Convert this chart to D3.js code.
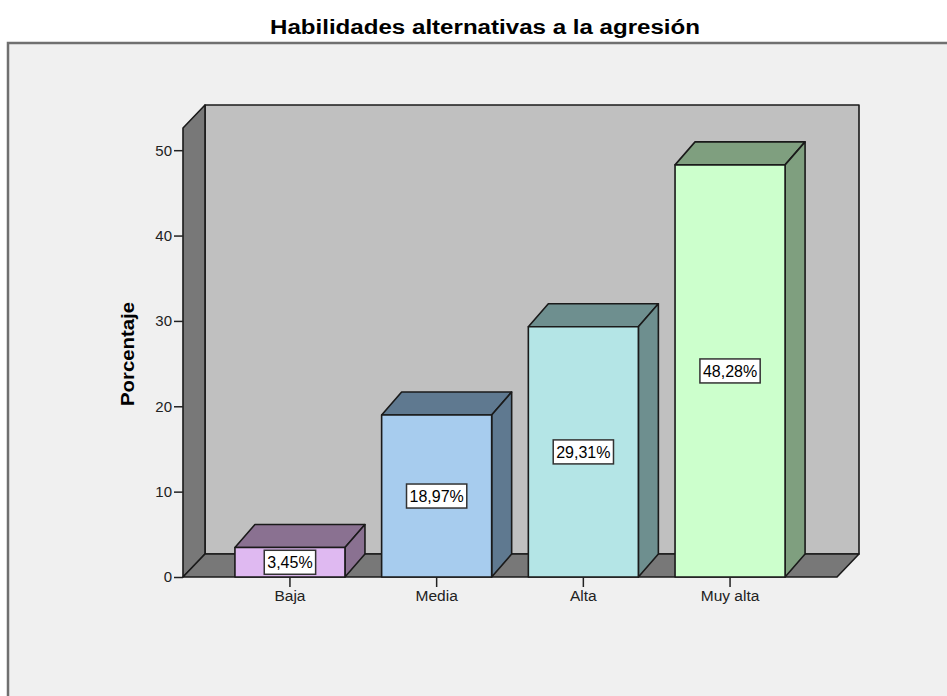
<!DOCTYPE html>
<html>
<head>
<meta charset="utf-8">
<style>
  body { margin: 0; background: #fff; }
  svg { display: block; font-family: "Liberation Sans", Arial, sans-serif; }
  .title { font-size: 20px; font-weight: bold; }
  .ylab { font-size: 19px; font-weight: bold; }
  .tick text { font-size: 15px; fill: #222; }
  .xax .tick text { font-size: 15.5px; }
  .vlabel { font-size: 16px; }
</style>
</head>
<body>
<div id="chart"></div>
<script src="https://d3js.org/d3.v7.min.js"></script>
<script>
// data
const categories = ["Baja", "Media", "Alta", "Muy alta"];
const values = [3.45, 18.97, 29.31, 48.28];
const valueLabels = ["3,45%", "18,97%", "29,31%", "48,28%"];
const frontColors = ["#dfb9f1", "#a7ccee", "#b4e5e6", "#ccffcc"];
const sideColors = ["#8a7191", "#5f7990", "#6e8f8f", "#7f9f7f"];
const yTicks = [0, 10, 20, 30, 40, 50];

const W = 947, H = 696;
const plotL = 183, plotR = 837, plotB = 577, plotT = 128;
const yMax = 52.6;
const dx = 22, dy = -23;     // wall depth
const bdx = 20, bdy = -23;   // bar depth

const svg = d3.select("#chart").append("svg")
  .attr("width", W).attr("height", H);

// panel
svg.append("rect")
  .attr("x", 8).attr("y", 43).attr("width", W).attr("height", H)
  .attr("fill", "#f0f0f0").attr("stroke", "#707070").attr("stroke-width", 2.5);

svg.append("text").attr("class", "title")
  .attr("x", 485).attr("y", 34).attr("text-anchor", "middle")
  .attr("textLength", 430).attr("lengthAdjust", "spacingAndGlyphs")
  .text("Habilidades alternativas a la agresión");

const x = d3.scaleBand().domain(categories)
  .range([plotL, plotR]).paddingInner(0.25).paddingOuter(0.354);
const y = d3.scaleLinear().domain([0, yMax]).range([plotB, plotT]);

const pts = a => a.map(p => p.join(",")).join(" ");
function poly(points, fill) {
  return svg.append("polygon").attr("points", pts(points)).attr("fill", fill)
    .attr("stroke", "#1a1a1a").attr("stroke-width", 1.6).attr("stroke-linejoin", "round");
}

// back wall, left wall, floor
poly([[plotL + dx, y(yMax) + dy], [plotR + dx, y(yMax) + dy], [plotR + dx, plotB + dy], [plotL + dx, plotB + dy]], "#c0c0c0");
poly([[plotL, plotB], [plotL, y(yMax)], [plotL + dx, y(yMax) + dy], [plotL + dx, plotB + dy]], "#787878");
poly([[plotL, plotB], [plotR, plotB], [plotR + dx, plotB + dy], [plotL + dx, plotB + dy]], "#787878");

// bars
categories.forEach((c, i) => {
  const x0 = x(c), x1 = x(c) + x.bandwidth(), yt = y(values[i]);
  poly([[x0, yt], [x0 + bdx, yt + bdy], [x1 + bdx, yt + bdy], [x1, yt]], sideColors[i]);
  poly([[x1, yt], [x1 + bdx, yt + bdy], [x1 + bdx, plotB + bdy], [x1, plotB]], sideColors[i]);
  poly([[x0, yt], [x1, yt], [x1, plotB], [x0, plotB]], frontColors[i]);
});

// value labels
categories.forEach((c, i) => {
  const cx = x(c) + x.bandwidth() / 2, cy = (y(values[i]) + plotB) / 2;
  const g = svg.append("g").attr("transform", `translate(${cx},${cy})`);
  const t = g.append("text").attr("class", "vlabel")
    .attr("text-anchor", "middle").attr("dy", "0.36em").text(valueLabels[i]);
  const bb = t.node().getBBox();
  g.insert("rect", "text")
    .attr("x", bb.x - 3).attr("y", -12).attr("width", bb.width + 6).attr("height", 24)
    .attr("fill", "#fff").attr("stroke", "#333").attr("stroke-width", 1.5);
});

// axes
const yAxis = svg.append("g").attr("transform", `translate(${plotL},0)`)
  .call(d3.axisLeft(y).tickValues(yTicks).tickSize(9).tickPadding(2));
yAxis.select(".domain").remove();
yAxis.selectAll("line").attr("stroke", "#222").attr("stroke-width", 1.5);

const xAxis = svg.append("g").attr("class", "xax").attr("transform", `translate(0,${plotB})`)
  .call(d3.axisBottom(x).tickSize(10).tickPadding(3));
xAxis.select(".domain").remove();
xAxis.selectAll("line").attr("stroke", "#222").attr("stroke-width", 1.5);

svg.append("text").attr("class", "ylab")
  .attr("transform", "translate(134,354) rotate(-90)")
  .attr("text-anchor", "middle")
  .attr("textLength", 104).attr("lengthAdjust", "spacingAndGlyphs")
  .text("Porcentaje");
</script>
</body>
</html>
